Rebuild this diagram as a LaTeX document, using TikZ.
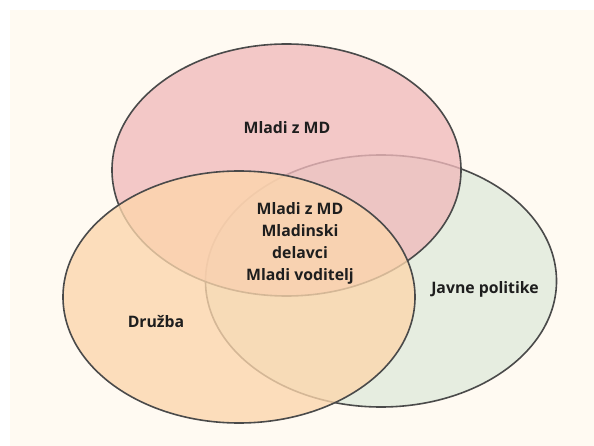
\documentclass[tikz,border=0pt]{standalone}
\usepackage{fontspec}
\setmainfont{Open Sans}
\definecolor{cream}{HTML}{FFFAF2}
\definecolor{pinkf}{RGB}{240,186,188}
\definecolor{greenf}{RGB}{224,234,220}
\definecolor{orangef}{RGB}{252,214,172}
\definecolor{edge}{HTML}{4A4A4A}
\definecolor{txt}{HTML}{1E1E1E}
\begin{document}
\begin{tikzpicture}[x=1pt,y=-1pt,
  venn/.style={draw=edge,line width=1.6pt,fill opacity=0.78},
  lbl/.style={text=txt,font=\fontsize{15.8}{22}\selectfont\bfseries,align=center,inner sep=0pt}]
\useasboundingbox (0,0) rectangle (594,446);
\fill[white] (0,0) rectangle (594,446);
\fill[cream] (10,10) rectangle (594,446);
\path[venn,fill=greenf] (381,281) ellipse [x radius=175.5,y radius=126];
\path[venn,fill=pinkf] (286.5,170) ellipse [x radius=174.5,y radius=126];
\path[venn,fill=orangef] (239,297) ellipse [x radius=176,y radius=126];
\node[lbl] (md) at (287,128) {Mladi z MD};
\node[lbl] (jp) at (485,289) {Javne politike};
\node[lbl] (dr) at (156,322) {Družba};
\node[lbl] (c) at (300,243) {Mladi z MD\\Mladinski\\delavci\\Mladi voditelj};
\end{tikzpicture}
\end{document}
